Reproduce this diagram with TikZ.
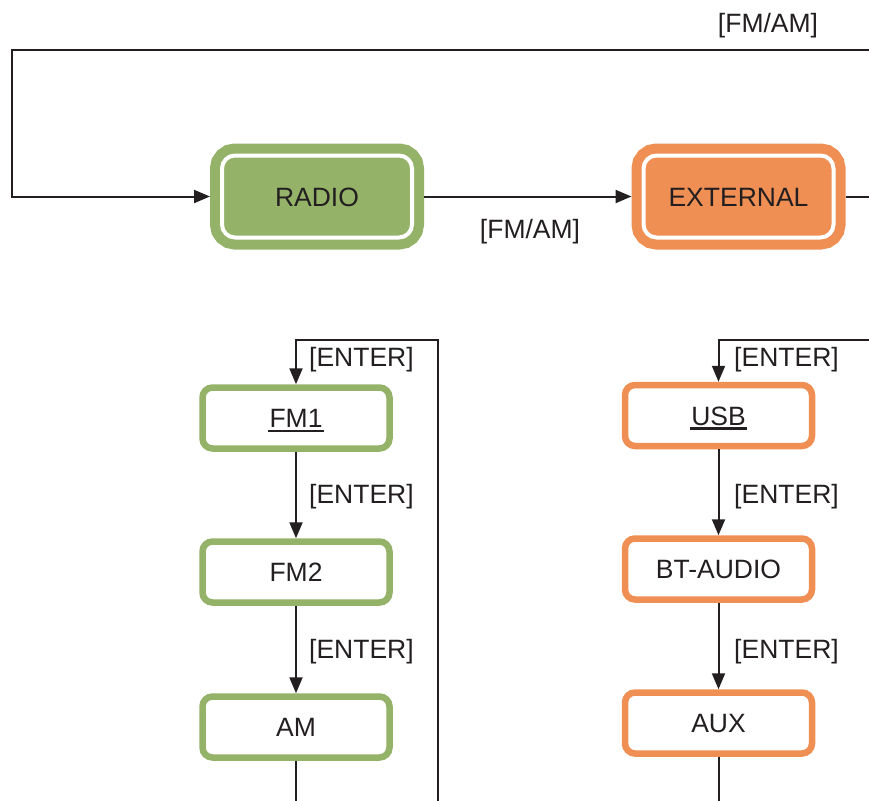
\documentclass[tikz,border=0pt]{standalone}
\usepackage{fontspec}
\setmainfont{Liberation Sans}
\usetikzlibrary{arrows.meta, positioning}
\definecolor{radiocol}{HTML}{94B268}
\definecolor{extcol}{HTML}{EF8F54}
\definecolor{linecol}{HTML}{231F20}
\newcommand{\boxul}[1]{\sbox0{#1}\rlap{\kern-1.5pt\rule[-4.5pt]{\dimexpr\wd0+3pt\relax}{2.5pt}}\usebox0}
\tikzset{
  mnode/.style={rectangle, rounded corners=13pt, draw=white, line width=4pt, minimum width=190pt, minimum height=82pt, outer sep=12pt, text height=19pt, text depth=0pt},
  rnode/.style={mnode, fill=radiocol, preaction={draw=radiocol, line width=24pt}},
  enode/.style={mnode, fill=extcol, preaction={draw=extcol, line width=24pt}},
  sbox/.style={rectangle, rounded corners=10pt, fill=white, line width=6.5pt, minimum width=187pt, minimum height=61pt, text height=19pt, text depth=0pt},
  rbox/.style={sbox, draw=radiocol},
  ebox/.style={sbox, draw=extcol},
  klabel/.style={inner sep=0pt, anchor=base west},
  wire/.style={draw=linecol, line width=2pt},
}

\begin{document}
\begin{tikzpicture}[x=1pt, y=-1pt, >={Triangle[length=16pt, width=13pt]}, font=\fontsize{26.5}{31}\selectfont, text=linecol]
  \useasboundingbox (0,0) rectangle (869,800);
  \clip (0,0) rectangle (869,800);

  \node[rnode] (radio) at (317,196.5) {RADIO};
  \node[enode] (ext) at (738.5,196.5) {EXTERNAL};
  \coordinate (loopR) at (900,50);
  \coordinate (loopL) at (11.7,50);
  \draw[wire, ->] (radio) -- (ext);
  \draw[wire, ->] (ext.east) -| (loopR) -- (loopL) |- (radio.west);
  \node[inner sep=0pt, anchor=base] (fmam1) at (768,33) {[FM/AM]};
  \node[inner sep=0pt, anchor=base] (fmam2) at (530,238) {[FM/AM]};

  \node[rbox] (fm1) at (296,418) {\boxul{FM1}};
  \node[rbox] (fm2) at (296,572) {FM2};
  \node[rbox] (am)  at (296,727) {AM};
  \coordinate (fmtop) at (296,340);
  \coordinate (fmback) at (438,830);
  \coordinate (amout) at (296,830);
  \draw[wire, ->] (fmback) |- (fmtop) -- (fm1);
  \draw[wire, ->] (fm1) -- (fm2);
  \draw[wire, ->] (fm2) -- (am);
  \draw[wire] (am) -- (amout);
  \node[klabel] (fmk1) at (309,366) {[ENTER]};
  \node[klabel] (fmk2) at (309,503) {[ENTER]};
  \node[klabel] (fmk3) at (309,658) {[ENTER]};

  \node[ebox] (usb) at (718.5,415.5) {\boxul{USB}};
  \node[ebox] (bt)  at (718.5,569) {BT-AUDIO};
  \node[ebox] (aux) at (718.5,723) {AUX};
  \coordinate (usbtop) at (718.5,340);
  \coordinate (usbback) at (900,340);
  \coordinate (auxout) at (718.5,830);
  \draw[wire, ->] (usbback) -- (usbtop) -- (usb);
  \draw[wire, ->] (usb) -- (bt);
  \draw[wire, ->] (bt) -- (aux);
  \draw[wire] (aux) -- (auxout);
  \node[klabel] (usbk1) at (734,366) {[ENTER]};
  \node[klabel] (usbk2) at (734,503) {[ENTER]};
  \node[klabel] (usbk3) at (734,658) {[ENTER]};
\end{tikzpicture}
\end{document}
